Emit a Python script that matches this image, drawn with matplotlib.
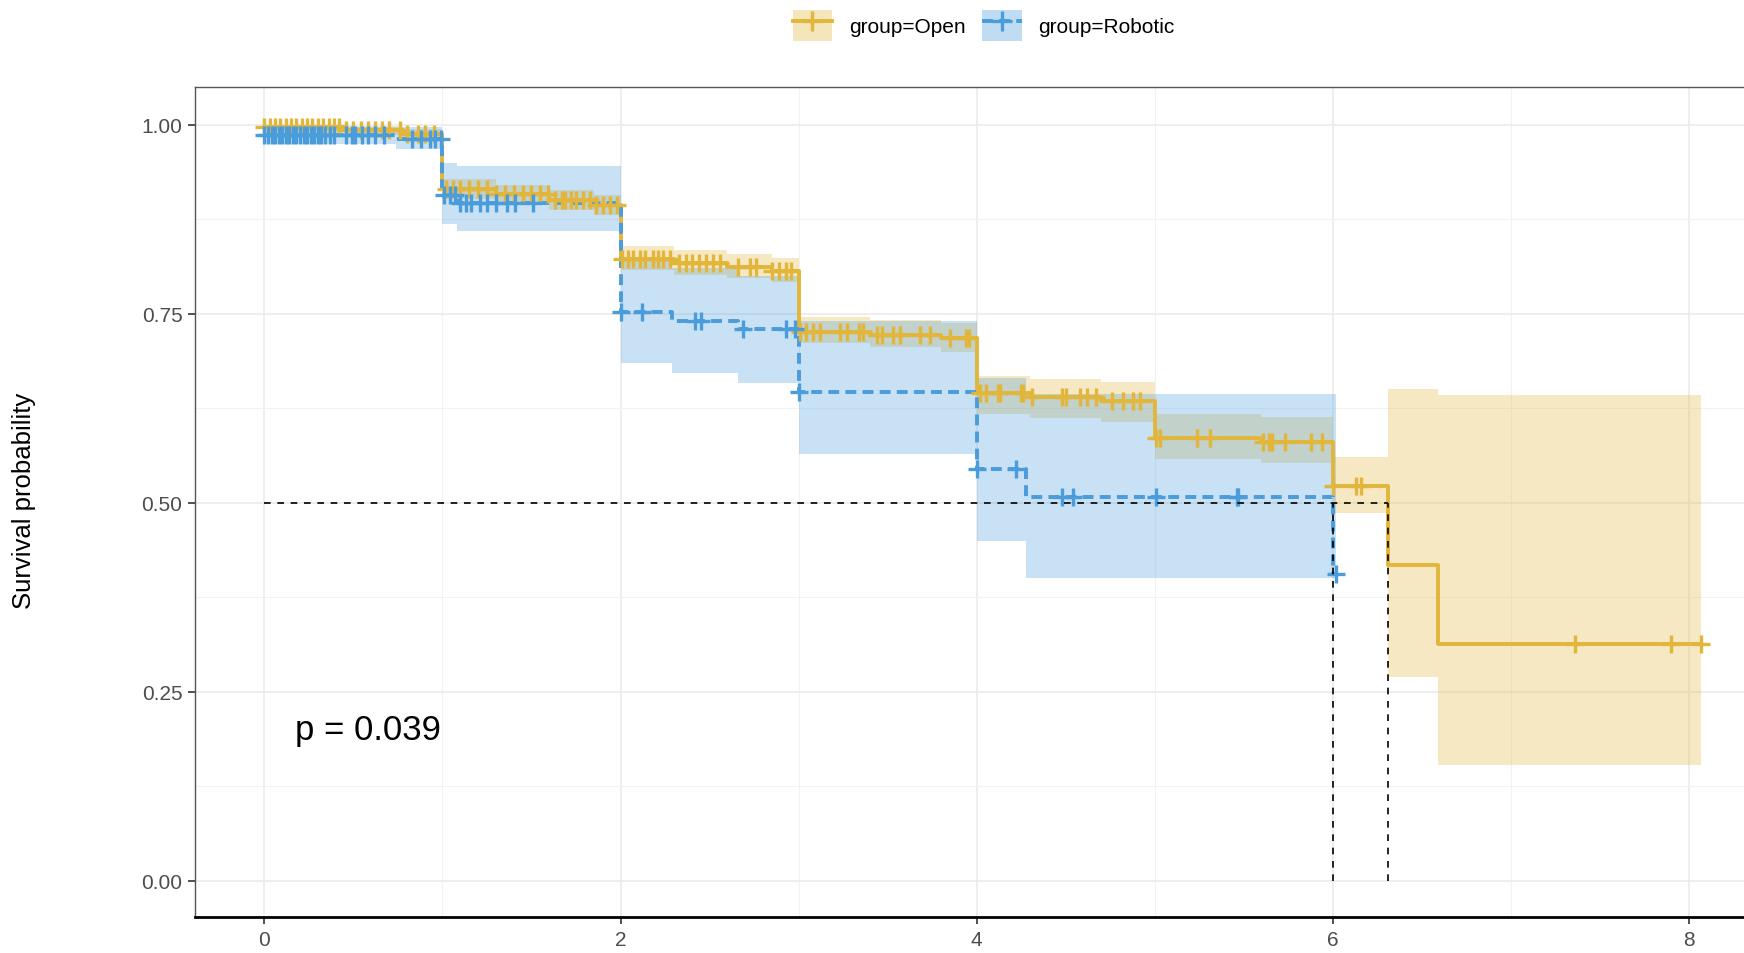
import numpy as np
import matplotlib
matplotlib.use("Agg")
import matplotlib.pyplot as plt
from matplotlib.lines import Line2D
from matplotlib.patches import Patch

plt.rcParams['font.family'] = ['Liberation Sans', 'DejaVu Sans']

# Kaplan-Meier steps
open_time = [0, 0.45, 0.78, 1.0, 1.3, 1.6, 1.85, 2.0, 2.3, 2.6, 2.85, 3.0, 3.4, 3.8,
             4.0, 4.3, 4.7, 5.0, 5.6, 6.0, 6.31, 6.59]
open_surv = [0.997, 0.993, 0.988, 0.915, 0.908, 0.901, 0.894, 0.823, 0.817, 0.812, 0.807,
             0.726, 0.722, 0.718, 0.645, 0.640, 0.635, 0.586, 0.580, 0.522, 0.418, 0.313]
open_lo = [0.992, 0.987, 0.981, 0.902, 0.895, 0.888, 0.881, 0.808, 0.802, 0.797, 0.792,
           0.712, 0.706, 0.700, 0.618, 0.612, 0.607, 0.558, 0.552, 0.486, 0.269, 0.153]
open_hi = [1.0, 0.999, 0.995, 0.928, 0.921, 0.914, 0.907, 0.84, 0.834, 0.829, 0.824,
           0.746, 0.742, 0.738, 0.668, 0.664, 0.660, 0.617, 0.613, 0.561, 0.651, 0.643]
open_end = 8.07

rob_time = [0, 0.74, 1.0, 1.08, 2.0, 2.29, 2.66, 3.0, 4.0, 4.28, 6.0]
rob_surv = [0.986, 0.981, 0.907, 0.897, 0.752, 0.741, 0.730, 0.647, 0.545, 0.508, 0.406]
rob_lo = [0.975, 0.968, 0.869, 0.859, 0.685, 0.672, 0.659, 0.564, 0.449, 0.401, 0.401]
rob_hi = [0.997, 0.997, 0.950, 0.945, 0.82, 0.81, 0.80, 0.74, 0.665, 0.644, 0.644]
rob_end = 6.02

open_cens = [0.0, 0.03, 0.06, 0.09, 0.12, 0.15, 0.18, 0.21, 0.24, 0.27, 0.3, 0.33, 0.36,
             0.39, 0.42, 0.46, 0.5, 0.54, 0.58, 0.62, 0.66, 0.7, 0.76, 0.8, 0.86, 0.9, 0.95,
             1.02, 1.06, 1.1, 1.15, 1.2, 1.25, 1.3, 1.35, 1.4, 1.45, 1.5, 1.55, 1.59, 1.63,
             1.67, 1.69, 1.72, 1.75, 1.79, 1.83, 1.86, 1.9, 1.94, 1.98, 2.01,
             2.04, 2.07, 2.11, 2.14, 2.18, 2.21, 2.24, 2.28, 2.33, 2.37, 2.40, 2.44, 2.48,
             2.52, 2.56, 2.66, 2.73, 2.76, 2.85, 2.89, 2.93, 2.96, 3.01,
             3.04, 3.08, 3.12, 3.23, 3.27, 3.34, 3.36, 3.44, 3.47, 3.53, 3.57, 3.68, 3.74,
             3.85, 3.94, 3.96,
             4.02, 4.05, 4.12, 4.13, 4.25, 4.26, 4.31, 4.48, 4.5, 4.58, 4.62, 4.67, 4.76,
             4.82, 4.88, 4.92,
             5.01, 5.03, 5.24, 5.31, 5.61, 5.64, 5.66, 5.73, 5.88, 5.94,
             6.0, 6.13, 6.16, 7.36, 7.9, 8.07]
rob_cens = [0.0, 0.02, 0.04, 0.06, 0.08, 0.1, 0.12, 0.14, 0.16, 0.18, 0.2, 0.22, 0.24,
            0.26, 0.28, 0.3, 0.32, 0.34, 0.37, 0.39, 0.46, 0.49, 0.51, 0.55, 0.58, 0.62,
            0.67, 0.83, 0.88, 0.93, 0.96, 0.99,
            1.01, 1.04, 1.07, 1.10, 1.13, 1.16, 1.21, 1.25, 1.30, 1.36, 1.41, 1.51,
            2.0, 2.12, 2.42, 2.45, 2.69, 2.93, 2.98, 3.0, 4.0, 4.22, 4.48, 4.54,
            5.01, 5.46, 5.47, 6.02]

median_open = 6.31
median_rob = 6.0
p_text = "p = 0.039"

c_open = '#E2B63A'
c_rob = '#4A9CDB'

fig = plt.figure(figsize=(17.44, 9.54), dpi=100)
ax = fig.add_axes([0.1118, 0.0377, 0.8882, 0.870])


def step_at(times, vals, t):
    idx = np.searchsorted(times, t, side='right') - 1
    return np.asarray(vals)[idx]


groups = [
    (open_time, open_surv, open_lo, open_hi, open_end, open_cens, c_open, '-'),
    (rob_time, rob_surv, rob_lo, rob_hi, rob_end, rob_cens, c_rob, (0, (2.8, 1.6))),
]

for t, s, lo, hi, end, cens, col, ls in groups:
    tt = np.append(t, end)
    ax.fill_between(tt, np.append(lo, lo[-1]), np.append(hi, hi[-1]), step='post',
                    color=col, alpha=0.3, linewidth=0, zorder=2)

for t, s, lo, hi, end, cens, col, ls in groups:
    tt = np.append(t, end)
    ax.step(tt, np.append(s, s[-1]), where='post', color=col, lw=2.8, linestyle=ls,
            zorder=3)
    ax.plot(cens, step_at(t, s, cens), linestyle='none', marker='+', ms=13, mew=2.4,
            color=col, zorder=4)

# median survival lines
ax.plot([0, median_open], [0.5, 0.5], color='black', lw=1.2, linestyle=(0, (4, 4)), zorder=5)
ax.plot([median_rob, median_rob], [0, 0.5], color='black', lw=1.2, linestyle=(0, (4, 4)), zorder=5)
ax.plot([median_open, median_open], [0, 0.5], color='black', lw=1.2, linestyle=(0, (4, 4)), zorder=5)

ax.text(0.17, 0.2, p_text, fontsize=25, ha='left', va='center')

ax.set_xlim(-0.39, 8.31)
ax.set_ylim(-0.048, 1.05)
ax.set_xticks([0, 2, 4, 6, 8])
ax.set_xticks([1, 3, 5, 7], minor=True)
ax.set_yticks([0, 0.25, 0.5, 0.75, 1.0])
ax.set_yticklabels(['0.00', '0.25', '0.50', '0.75', '1.00'])
ax.set_yticks([0.125, 0.375, 0.625, 0.875], minor=True)
ax.grid(which='major', color='#ebebeb', lw=1.2, zorder=0)
ax.grid(which='minor', color='#f2f2f2', lw=0.8, zorder=0)
ax.set_axisbelow(True)
ax.tick_params(which='major', length=5, width=1.2, color='#333333', labelsize=15,
               labelcolor='#4d4d4d', pad=4)
ax.tick_params(which='minor', length=0)

for side in ['left', 'top']:
    ax.spines[side].set_color('#555555')
    ax.spines[side].set_linewidth(1.0)
ax.spines['bottom'].set_color('black')
ax.spines['bottom'].set_linewidth(2.0)
ax.spines['right'].set_visible(False)

fig.text(0.014, 0.475, 'Survival probability', rotation=90, fontsize=18.5,
         ha='center', va='center')

handles = [
    (Patch(facecolor=c_open, alpha=0.35, edgecolor='none'),
     Line2D([], [], color=c_open, lw=2.8, marker='+', ms=14, mew=2.4)),
    (Patch(facecolor=c_rob, alpha=0.35, edgecolor='none'),
     Line2D([], [], color=c_rob, lw=2.8, linestyle=(0, (2.8, 1.6)), marker='+', ms=14, mew=2.4)),
]
fig.legend(handles, ['group=Open', 'group=Robotic'], loc='center', ncol=2,
           bbox_to_anchor=(0.564, 0.972), frameon=False, fontsize=15,
           handlelength=1.9, handleheight=1.9, handletextpad=0.8, columnspacing=0.8)

fig.savefig('out.png', dpi=100)
